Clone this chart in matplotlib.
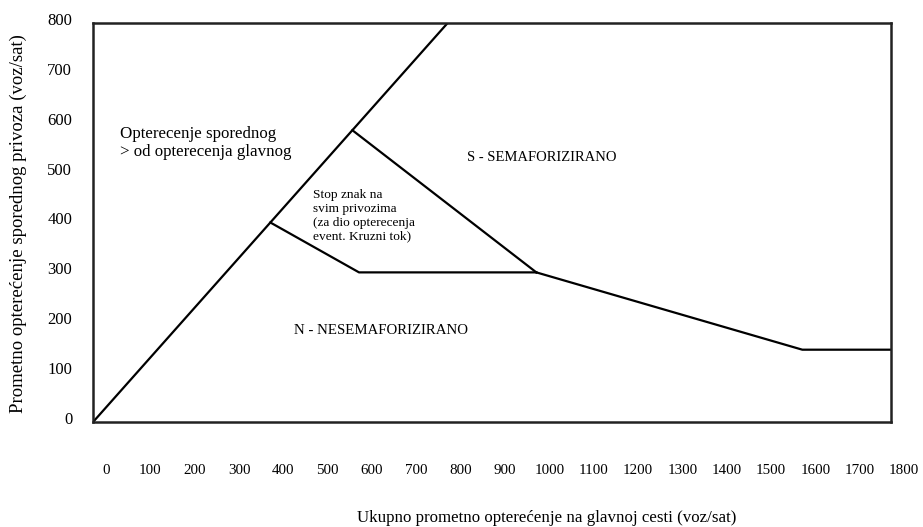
import matplotlib
matplotlib.use("Agg")
import matplotlib.pyplot as plt
import matplotlib.transforms as mtransforms

plt.rcParams['font.family'] = ['Liberation Serif', 'DejaVu Serif']

# granice podrucja (voz/sat)
diag_x = [0, 800]
diag_y = [0, 800]

stop_lower_x = [400, 600, 1000]
stop_lower_y = [400, 300, 300]

stop_upper_x = [585, 1000]
stop_upper_y = [585, 300]

sem_x = [1000, 1600, 1800]
sem_y = [300, 145, 145]

x_ticks = list(range(0, 1900, 100))
y_ticks = list(range(0, 900, 100))

fig = plt.figure(figsize=(9.23, 5.27), dpi=100)
ax = fig.add_axes([0.1008, 0.1992, 0.8645, 0.7572])

lw = 1.6
ax.plot(diag_x, diag_y, color="black", linewidth=lw, solid_capstyle="butt")
ax.plot(stop_lower_x, stop_lower_y, color="black", linewidth=lw)
ax.plot(stop_upper_x, stop_upper_y, color="black", linewidth=lw)
ax.plot(sem_x, sem_y, color="black", linewidth=lw)

ax.set_xlim(0, 1800)
ax.set_ylim(0, 800)
ax.set_xticks(x_ticks)
ax.set_yticks(y_ticks)
ax.tick_params(axis="x", length=0, pad=30, labelsize=10.8)
ax.tick_params(axis="y", length=0, pad=15, labelsize=12)
for side in ax.spines.values():
    side.set_linewidth(1.8)
    side.set_color("#222222")

# pomak oznaka kao na originalu
dx = mtransforms.ScaledTranslation(13 / 100, 0, fig.dpi_scale_trans)
for lbl in ax.get_xticklabels():
    lbl.set_transform(lbl.get_transform() + dx)
dy = mtransforms.ScaledTranslation(0, 4 / 100, fig.dpi_scale_trans)
for lbl in ax.get_yticklabels():
    lbl.set_transform(lbl.get_transform() + dy)

# tekstovi podrucja
ax.text(60, 560, "Opterecenje sporednog\n> od opterecenja glavnog",
        fontsize=12.2, ha="left", va="center", linespacing=1.15)
ax.text(844, 531, "S - SEMAFORIZIRANO", fontsize=10.5, ha="left", va="center")
ax.text(496, 414, "Stop znak na\nsvim privozima\n(za dio opterecenja\nevent. Kruzni tok)",
        fontsize=9.6, ha="left", va="center", linespacing=1.22)
ax.text(453, 184, "N - NESEMAFORIZIRANO", fontsize=10.7, ha="left", va="center")

fig.text(547 / 923, 1 - 518 / 527, "Ukupno prometno opterećenje na glavnoj cesti (voz/sat)",
         fontsize=12.2, ha="center", va="center")
fig.text(18 / 923, 1 - 224 / 527, "Prometno opterećenje sporednog privoza (voz/sat)",
         fontsize=13.5, ha="center", va="center", rotation=90)

fig.savefig("out.png", dpi=100)
